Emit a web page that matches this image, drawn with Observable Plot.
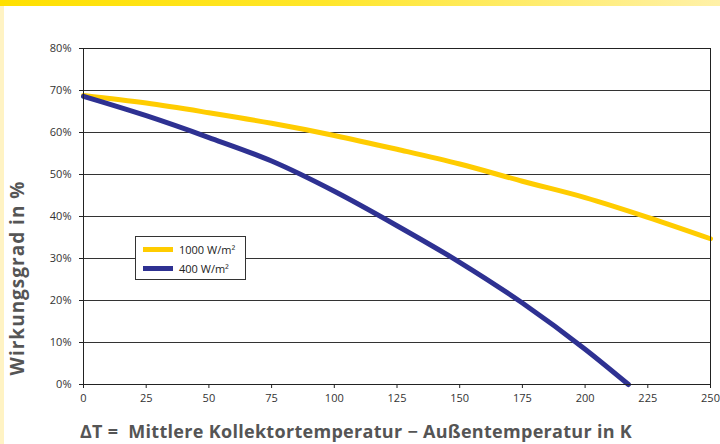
<!DOCTYPE html>
<html>
<head>
<meta charset="utf-8">
<script src="https://cdn.jsdelivr.net/npm/d3@7"></script>
<script src="https://cdn.jsdelivr.net/npm/@observablehq/plot@0.6"></script>
<style>
  html, body { margin: 0; padding: 0; background: #fff; }
  #wrap { position: relative; width: 720px; height: 444px; overflow: hidden; font-family: "Open Sans", "Noto Sans", sans-serif; }
  #topbar { position: absolute; left: 0; top: 0; width: 720px; height: 6px; background: linear-gradient(to right, #FFE000 0%, #FFE62A 45%, #FFF1A8 100%); }
  #leftbar { position: absolute; left: 0; top: 6px; width: 4px; height: 438px; background: #FFF3C4; }
  #legend { position: absolute; left: 135px; top: 236px; width: 109px; height: 42px; border: 1px solid #333; background: #fff; font-size: 11px; color: #222; }
  .item { position: absolute; left: 7px; display: flex; align-items: center; }
  .sw { width: 30px; height: 5px; margin-right: 6px; }
</style>
</head>
<body>
<div id="wrap">
  <div id="chart"></div>
  <div id="topbar"></div>
  <div id="leftbar"></div>
  <div id="legend"></div>
</div>
<script>
// ΔT in K
const dT1000 = [0, 25, 50, 75, 100, 125, 150, 175, 200, 225, 250];
const eta1000 = [0.688, 0.670, 0.647, 0.622, 0.593, 0.560, 0.525, 0.484, 0.445, 0.398, 0.347];
const dT400 = [0, 25, 50, 75, 100, 125, 150, 175, 200, 217.3];
const eta400 = [0.686, 0.640, 0.588, 0.532, 0.460, 0.378, 0.291, 0.194, 0.084, 0.0];
const seriesNames = ["1000 W/m²", "400 W/m²"];
const seriesColors = ["#FFCC00", "#2E3192"];
const xTicks = [0, 25, 50, 75, 100, 125, 150, 175, 200, 225, 250];
const yTicks = [0, 0.1, 0.2, 0.3, 0.4, 0.5, 0.6, 0.7, 0.8];
const xTitle = "ΔT =  Mittlere Kollektortemperatur − Außentemperatur in K";
const yTitle = "Wirkungsgrad in %";

const data = [
  ...dT1000.map((x, i) => ({x, y: eta1000[i], s: seriesNames[0]})),
  ...dT400.map((x, i) => ({x, y: eta400[i], s: seriesNames[1]}))
];

const plot = Plot.plot({
  width: 720,
  height: 444,
  marginLeft: 83,
  marginRight: 10,
  marginTop: 48,
  marginBottom: 60,
  style: {fontFamily: "'Open Sans', 'Noto Sans', sans-serif", fontSize: "11px", color: "#333", background: "transparent"},
  x: {domain: [0, 250]},
  y: {domain: [0, 0.8]},
  color: {domain: seriesNames, range: seriesColors},
  marks: [
    Plot.ruleY(yTicks, {stroke: "#333", strokeWidth: 1}),
    Plot.line(data, {x: "x", y: "y", z: "s", stroke: "s", strokeWidth: 5, curve: "monotone-x"}),
    Plot.frame({stroke: "#222", strokeWidth: 1}),
    Plot.axisY({ticks: yTicks, tickFormat: d3.format(".0%"), tickSize: 4, tickPadding: 8, label: null, stroke: "#222"}),
    Plot.axisX({ticks: xTicks, tickSize: 4, tickPadding: 6, label: null, stroke: "#222"})
  ]
});
document.getElementById("chart").appendChild(plot);

const svg = d3.select(plot);
svg.append("text")
  .attr("x", 356).attr("y", 438)
  .attr("text-anchor", "middle")
  .attr("font-size", 18).attr("font-weight", "bold").attr("fill", "#555")
  .attr("letter-spacing", 0.3)
  .text(xTitle);
svg.append("text")
  .attr("transform", "translate(24,278) rotate(-90)")
  .attr("text-anchor", "middle")
  .attr("font-size", 19).attr("font-weight", "bold").attr("fill", "#555")
  .attr("letter-spacing", 1)
  .text(yTitle);

const legend = d3.select("#legend");
seriesNames.forEach((n, i) => {
  const it = legend.append("div").attr("class", "item").style("top", (5 + i * 19) + "px");
  it.append("div").attr("class", "sw").style("background", seriesColors[i]);
  it.append("span").text(n);
});
</script>
</body>
</html>
